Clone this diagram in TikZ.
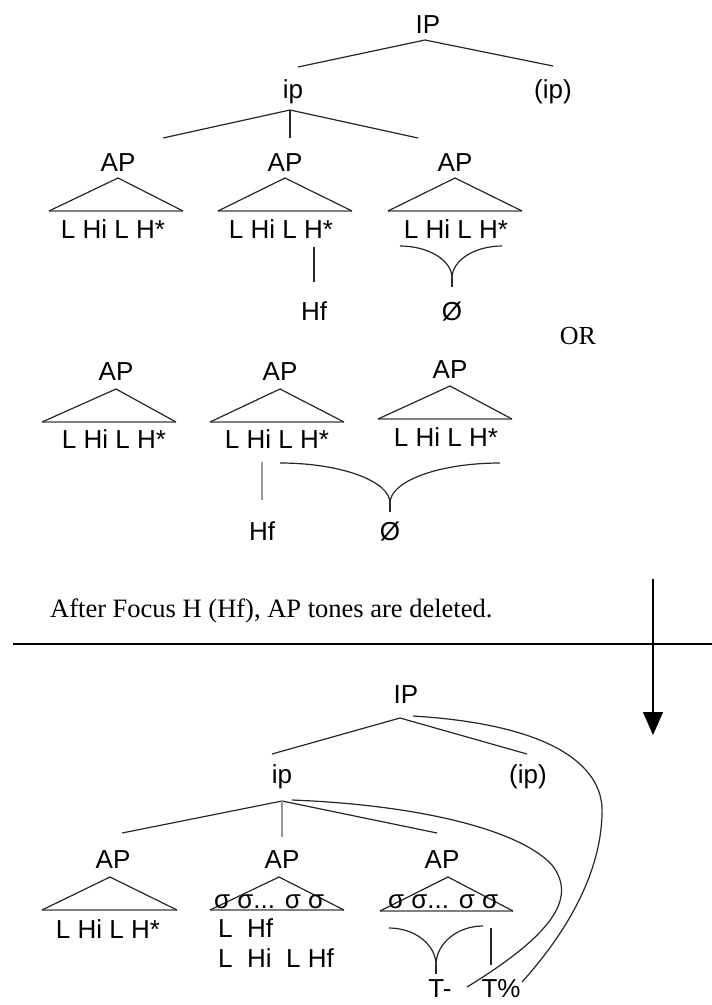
\documentclass[tikz,border=0pt]{standalone}
\usepackage{fontspec}
\setmainfont{Liberation Sans}
\newfontfamily\capserif{Liberation Serif}
\usetikzlibrary{arrows.meta,calc}
\newcommand\apTri[6]{%
  \coordinate (#1t) at (#2,#3);
  \coordinate (#1l) at (#4,#6);
  \coordinate (#1r) at (#5,#6);
  \draw[basel] (#1l) -- (#1r);
  \draw[edge] (#1l) -- (#1t) -- (#1r);
}
\newcommand\tonebrace[4]{% name, left end, right end, cusp
  \coordinate (#1L) at #2;
  \coordinate (#1R) at #3;
  \coordinate (#1C) at #4;
  \draw[edge] (#1L) .. controls ($(#1L)!0.55!(#1C|-#1L)$) and ($(#1C)!0.55!(#1C|-#1L)$) .. (#1C);
  \draw[edge] (#1R) .. controls ($(#1R)!0.55!(#1C|-#1R)$) and ($(#1C)!0.55!(#1C|-#1R)$) .. (#1C);
  \draw[edge] (#1C) -- ++(0,9);
}
\begin{document}
\begin{tikzpicture}[x=1pt,y=-1pt,
  lbl/.style={inner sep=0pt, anchor=base, font=\fontsize{26}{30}\selectfont},
  lblw/.style={lbl, anchor=base west},
  edge/.style={line width=1.2pt, black!85},
  basel/.style={line width=1.9pt, black!50},
  grayline/.style={line width=1.5pt, black!40},
]
\useasboundingbox (0,0) rectangle (712,1005);

% ---------------- top tree ----------------
\node[lbl] (IP1) at (428,33) {IP};
\node[lbl] (ip1) at (293,98) {ip};
\node[lbl] (ipo1) at (553,98) {(ip)};
\coordinate (IP1a) at (425,40);
\coordinate (IP1l) at (298,67);
\coordinate (IP1r) at (553,66);
\draw[edge] (IP1l) -- (IP1a) -- (IP1r);
\coordinate (ip1a) at (290,110);
\coordinate (ip1l) at (163,138);
\coordinate (ip1m) at (290,138);
\coordinate (ip1r) at (418,138);
\draw[edge] (ip1l) -- (ip1a) -- (ip1r);
\draw[edge] (ip1a) -- (ip1m);

\node[lbl] (ap11) at (118,171) {AP};
\node[lbl] (ap12) at (285,171) {AP};
\node[lbl] (ap13) at (455,171) {AP};
\apTri{ta}{118}{178}{49}{183}{211}
\apTri{tb}{285}{178}{218}{352}{211}
\apTri{tc}{455}{178}{388}{522}{211}
\node[lbl] (to11) at (113,238) {L Hi L H*};
\node[lbl] (to12) at (281,238) {L Hi L H*};
\node[lbl] (to13) at (456,238) {L Hi L H*};
\coordinate (hf1t) at (314,247);
\coordinate (hf1b) at (314,282);
\draw[edge] (hf1t) -- (hf1b);
\node[lbl] (hf1) at (314,320) {Hf};
\tonebrace{b1}{(400,246)}{(502,246)}{(452,278)}
\node[lbl] (nul1) at (452,320) {Ø};

\node[lbl, font=\capserif\fontsize{26}{30}\selectfont] (or) at (578,344) {OR};

% ---------------- alternative ----------------
\node[lbl] (ap21) at (116,380) {AP};
\node[lbl] (ap22) at (280,380) {AP};
\node[lbl] (ap23) at (450,378) {AP};
\apTri{td}{116}{389}{42}{176}{422}
\apTri{te}{280}{389}{210}{344}{422}
\apTri{tf}{450}{386}{378}{512}{419}
\node[lbl] (to21) at (114,448) {L Hi L H*};
\node[lbl] (to22) at (277,448) {L Hi L H*};
\node[lbl] (to23) at (446,446) {L Hi L H*};
\coordinate (hf2t) at (262,462);
\coordinate (hf2b) at (262,500);
\draw[grayline] (hf2t) -- (hf2b);
\node[lbl] (hf2) at (262,540) {Hf};
\tonebrace{b2}{(280,463)}{(500,463)}{(390,503)}
\node[lbl] (nul2) at (390,540) {Ø};

% ---------------- caption, rule, arrow ----------------
\node[lblw, font=\capserif\fontsize{26.5}{30}\selectfont] (cap) at (50,617) {After Focus H (Hf), AP tones are deleted.};
\coordinate (ruleL) at (13,644);
\coordinate (ruleR) at (712,644);
\draw[line width=1.3pt] (ruleL) -- (ruleR);
\coordinate (arrT) at (653,579);
\coordinate (arrB) at (653,735);
\draw[line width=1.3pt, -{Triangle[width=20pt,length=23pt]}] (arrT) -- (arrB);

% ---------------- bottom tree ----------------
\node[lbl] (IP3) at (406,703) {IP};
\node[lbl] (ip3) at (282,783) {ip};
\node[lbl] (ipo3) at (528,783) {(ip)};
\coordinate (IP3a) at (400,718);
\coordinate (IP3l) at (272,754);
\coordinate (IP3r) at (527,754);
\draw[edge] (IP3l) -- (IP3a) -- (IP3r);
\coordinate (ip3a) at (282,801);
\coordinate (ip3l) at (122,833);
\coordinate (ip3m) at (282,837);
\coordinate (ip3r) at (437,833);
\draw[edge] (ip3l) -- (ip3a) -- (ip3r);
\draw[grayline] (ip3a) -- (ip3m);

\node[lbl] (ap31) at (113,868) {AP};
\node[lbl] (ap32) at (282,868) {AP};
\node[lbl] (ap33) at (442,868) {AP};
\apTri{tg}{110}{877}{42}{177}{910}
\apTri{th}{279}{877}{210}{344}{910}
\apTri{ti}{448}{877}{380}{513}{911}
\node[lbl] (to31) at (108,938) {L Hi L H*};
\node[lblw] (sg2) at (214,908) {σ σ... σ σ};
\node[lblw] (sg3) at (388,908) {σ σ... σ σ};
\node[lblw] (to32a) at (218,937) {L\ \ Hf};
\node[lblw] (to32b) at (218,967) {L\ \ Hi\ \ L Hf};
\tonebrace{b3}{(389,928)}{(483,926)}{(436,965)}
\coordinate (tpt) at (491,928);
\coordinate (tpb) at (491,965);
\draw[edge] (tpt) -- (tpb);
\node[lbl] (Tm) at (440,997) {T-};
\node[lbl] (Tp) at (501,997) {T\%};

% association curves
\coordinate (c1s) at (413,716);
\coordinate (c1m) at (602,815);
\coordinate (c1e) at (522,982);
\draw[edge] (c1s) .. controls (560,725) and (605,770) .. (c1m)
                  .. controls (600,880) and (560,940) .. (c1e);
\coordinate (c2s) at (292,800);
\coordinate (c2m) at (552,865);
\coordinate (c2e) at (467,987);
\draw[edge] (c2s) .. controls (420,805) and (520,830) .. (c2m)
                  .. controls (575,895) and (560,930) .. (c2e);
\end{tikzpicture}
\end{document}
